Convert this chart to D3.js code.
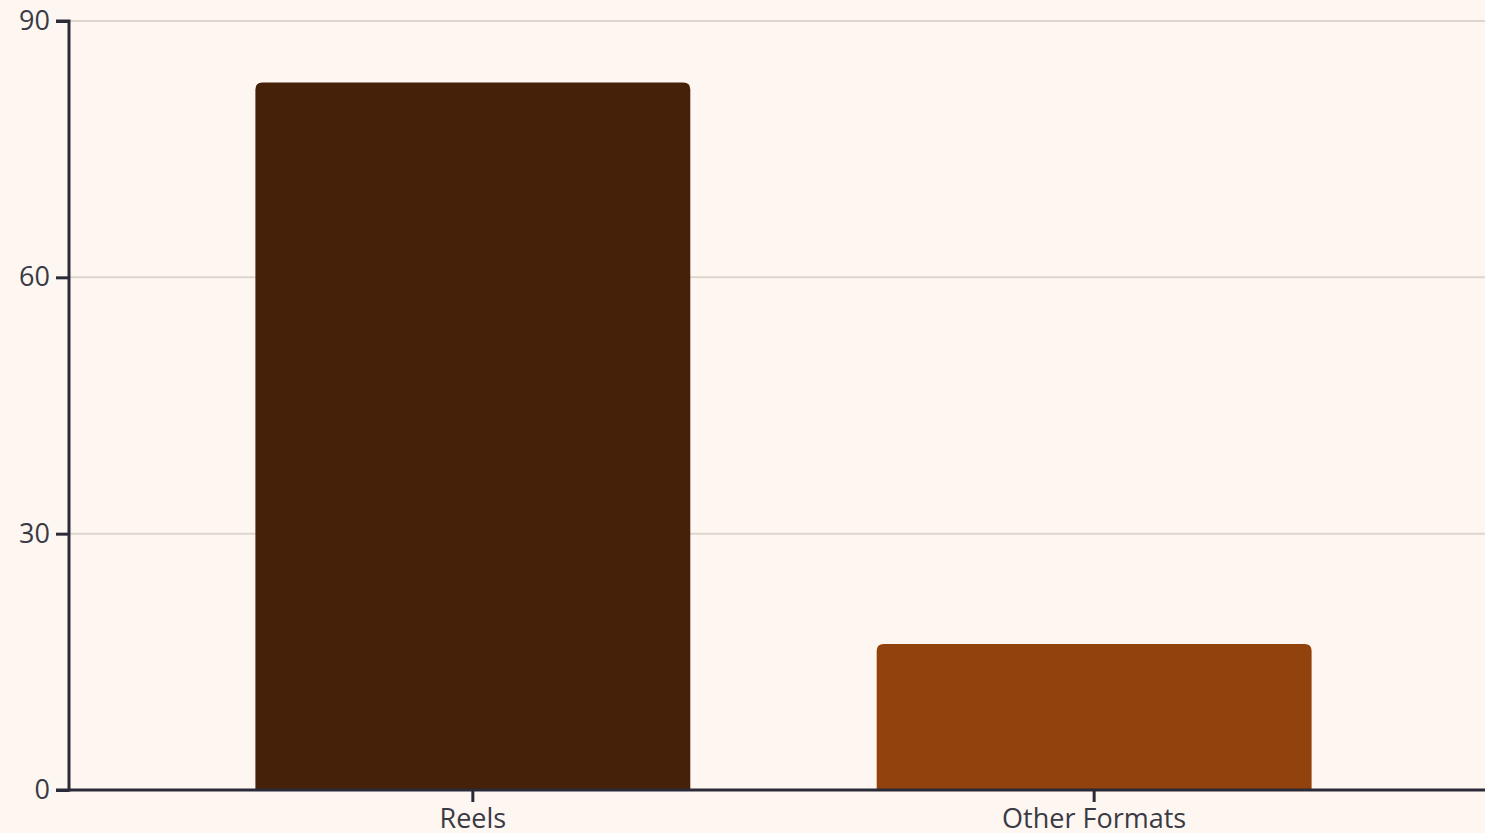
<!DOCTYPE html>
<html><head><meta charset="utf-8">
<script src="https://cdn.jsdelivr.net/npm/d3@7"></script>
<style>
html,body{margin:0;padding:0;background:#fef7f1;overflow:hidden;}
svg{display:block;font-family:"Open Sans","Noto Sans",sans-serif;}
</style></head><body>
<svg id="c" width="1485" height="833"></svg>
<script>
const categories = ["Reels", "Other Formats"];
const values = [82.8, 17.1];
const colors = ["#45210a", "#92420c"];
const yTicks = [0, 30, 60, 90];

const W = 1485, H = 833;
const m = {left: 69, top: 21, bottom: 43};
const svg = d3.select("#c");
const x = d3.scaleBand().domain(categories).range([m.left, 1498]).paddingInner(0.3).paddingOuter(0.3);
const y = d3.scaleLinear().domain([0, 90]).range([H - m.bottom, m.top]);

// gridlines
svg.append("g").selectAll("line").data(yTicks.filter(d => d > 0)).join("line")
  .attr("x1", m.left).attr("x2", W).attr("y1", d => y(d)).attr("y2", d => y(d))
  .attr("stroke", "#dcd6cf").attr("stroke-width", 2);

// bars with rounded top corners
const r = 7;
svg.append("g").selectAll("path").data(categories).join("path")
  .attr("fill", (d, i) => colors[i])
  .attr("d", (d, i) => {
    const x0 = x(d), x1 = x(d) + x.bandwidth(), yt = y(values[i]), yb = y(0);
    return `M${x0},${yb}V${yt + r}Q${x0},${yt} ${x0 + r},${yt}H${x1 - r}Q${x1},${yt} ${x1},${yt + r}V${yb}Z`;
  });

// y axis
const ya = svg.append("g").attr("transform", `translate(${m.left},0)`)
  .call(d3.axisLeft(y).tickValues(yTicks).tickSize(13).tickPadding(6));
ya.attr("font-family", null).attr("font-size", null);
ya.select(".domain").attr("stroke", "#2b2a38").attr("stroke-width", 3).attr("d", `M-13,${y(90)}H0V${y(0)}H-13`);
ya.selectAll(".tick line").attr("stroke", "#2b2a38").attr("stroke-width", 3);
ya.selectAll(".tick text").attr("fill", "#3a3a45").style("font-size", "27px");

// x axis
const xa = svg.append("g").attr("transform", `translate(0,${y(0)})`)
  .call(d3.axisBottom(x).tickSize(12).tickPadding(7));
xa.attr("font-family", null).attr("font-size", null);
xa.select(".domain").attr("stroke", "#2b2a38").attr("stroke-width", 3).attr("d", `M${m.left},0H${W}`);
xa.selectAll(".tick line").attr("stroke", "#2b2a38").attr("stroke-width", 3);
xa.selectAll(".tick text").attr("fill", "#3a3a45").style("font-size", "27px");
svg.selectAll(".domain").raise();
</script>
</body></html>
